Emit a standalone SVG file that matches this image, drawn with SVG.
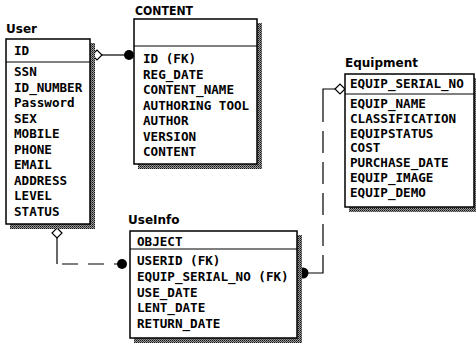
<svg xmlns="http://www.w3.org/2000/svg" width="476" height="346" viewBox="0 0 476 346">
<defs>
<pattern id="hatch" width="2" height="2" patternUnits="userSpaceOnUse">
<rect width="2" height="2" fill="#9a9a9a"/>
<rect width="1" height="1" fill="#111"/>
<rect x="1" y="1" width="1" height="1" fill="#444"/>
</pattern>
<style>
.shadow{fill:url(#hatch);stroke:none}
.box{fill:#fff;stroke:#000;stroke-width:1.5}
.div{stroke:#000;stroke-width:1.2}
.title{font-family:"DejaVu Sans",sans-serif;font-weight:bold;font-size:12px;fill:#000}
.f{font-family:"DejaVu Sans Mono","Liberation Mono",monospace;font-weight:bold;font-size:12.6px;fill:#000}
.ln{fill:none;stroke:#000;stroke-width:1.2}
.dash{stroke-dasharray:22 9}
.dash2{stroke-dasharray:16 10}
.dia{fill:#fff;stroke:#000;stroke-width:1.2}
.dot{fill:#000}
</style>
</defs>
<rect width="476" height="346" fill="#fff"/>

<g id="connectors">
<path class="ln" d="M102 55 H129"/>
<path class="ln" d="M57 238 V264"/>
<path class="ln dash2" d="M62 264 H120"/>
<path class="ln" d="M335 89 H323 V100"/>
<path class="ln dash" d="M323 100 V262"/>
<path class="ln" d="M323 262 V273 H303"/>
<polygon class="dia" points="92,55 97,50 102,55 97,60"/>
<circle class="dot" cx="129" cy="55" r="5"/>
<polygon class="dia" points="57,228 62,233 57,238 52,233"/>
<circle class="dot" cx="122" cy="264" r="5"/>
<polygon class="dia" points="335,89 340,84 345,89 340,94"/>
<circle class="dot" cx="303" cy="273" r="5.5"/>
</g>

<g id="User">
<text class="title" x="6" y="33">User</text>
<rect class="shadow" x="10" y="43" width="85" height="186"/>
<rect class="box" x="6" y="39" width="84" height="185"/>
<line class="div" x1="6" y1="62" x2="90" y2="62"/>
<text class="f" x="14" y="55">ID</text>
<text class="f" x="14" y="76">SSN</text>
<text class="f" x="14" y="91.5">ID_NUMBER</text>
<text class="f" x="14" y="107">Password</text>
<text class="f" x="14" y="122.5">SEX</text>
<text class="f" x="14" y="138">MOBILE</text>
<text class="f" x="14" y="153.5">PHONE</text>
<text class="f" x="14" y="169">EMAIL</text>
<text class="f" x="14" y="184.5">ADDRESS</text>
<text class="f" x="14" y="200">LEVEL</text>
<text class="f" x="14" y="216">STATUS</text>
</g>

<g id="CONTENT">
<text class="title" x="135" y="15" textLength="58" lengthAdjust="spacingAndGlyphs">CONTENT</text>
<rect class="shadow" x="138" y="23" width="124" height="146"/>
<rect class="box" x="134" y="19" width="123" height="145"/>
<line class="div" x1="134" y1="46" x2="257" y2="46"/>
<text class="f" x="143" y="63">ID (FK)</text>
<text class="f" x="143" y="78.5">REG_DATE</text>
<text class="f" x="143" y="94">CONTENT_NAME</text>
<text class="f" x="143" y="109.5">AUTHORING TOOL</text>
<text class="f" x="143" y="125">AUTHOR</text>
<text class="f" x="143" y="140.5">VERSION</text>
<text class="f" x="143" y="156">CONTENT</text>
</g>

<g id="Equipment">
<text class="title" x="345" y="67">Equipment</text>
<rect class="shadow" x="349" y="78" width="130" height="134"/>
<rect class="box" x="345" y="74" width="129" height="133"/>
<line class="div" x1="345" y1="94" x2="474" y2="94"/>
<text class="f" x="350" y="88">EQUIP_SERIAL_NO</text>
<text class="f" x="350" y="108">EQUIP_NAME</text>
<text class="f" x="350" y="122.8">CLASSIFICATION</text>
<text class="f" x="350" y="137.6">EQUIPSTATUS</text>
<text class="f" x="350" y="152.4">COST</text>
<text class="f" x="350" y="167.2">PURCHASE_DATE</text>
<text class="f" x="350" y="182">EQUIP_IMAGE</text>
<text class="f" x="350" y="196.8">EQUIP_DEMO</text>
</g>

<g id="UseInfo">
<text class="title" x="128" y="224">UseInfo</text>
<rect class="shadow" x="134" y="235" width="168" height="108"/>
<rect class="box" x="130" y="231" width="167" height="107"/>
<line class="div" x1="130" y1="249" x2="297" y2="249"/>
<text class="f" x="137" y="246">OBJECT</text>
<text class="f" x="137" y="265">USERID (FK)</text>
<text class="f" x="137" y="280.7">EQUIP_SERIAL_NO (FK)</text>
<text class="f" x="137" y="296.5">USE_DATE</text>
<text class="f" x="137" y="312.2">LENT_DATE</text>
<text class="f" x="137" y="328">RETURN_DATE</text>
</g>
</svg>
